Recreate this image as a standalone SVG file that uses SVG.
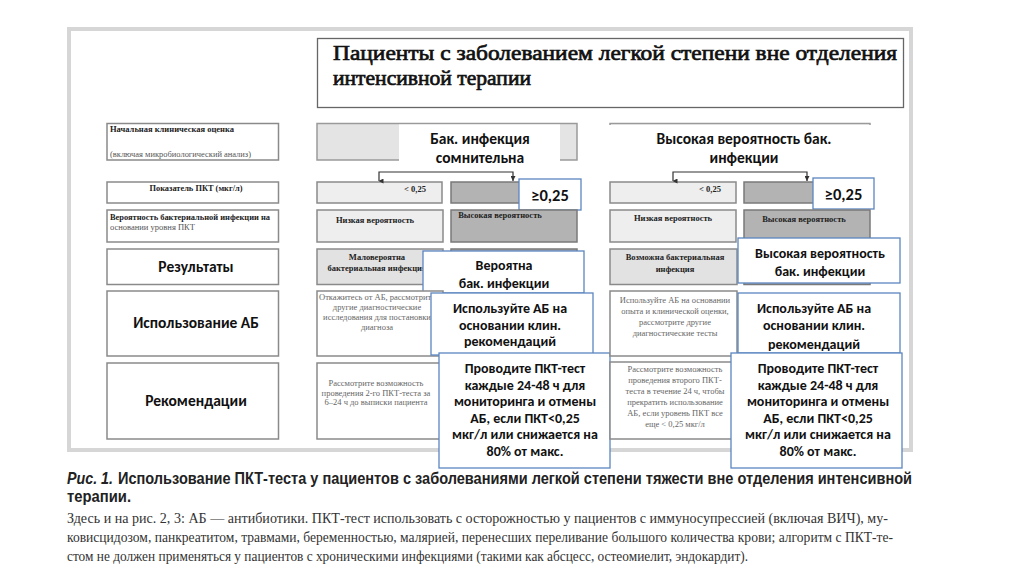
<svg xmlns="http://www.w3.org/2000/svg" width="1024" height="574" viewBox="0 0 1024 574">
<defs>
<marker id="arr" viewBox="0 0 10 10" refX="5" refY="9" markerWidth="5" markerHeight="5" orient="auto-start-reverse" markerUnits="userSpaceOnUse">
<path d="M0,0 L10,0 L5,10 Z" fill="#333"/>
</marker>
<marker id="arrd" viewBox="0 0 10 10" refX="10" refY="5" markerWidth="5" markerHeight="5" orient="auto" markerUnits="userSpaceOnUse">
<path d="M0,0 L10,5 L0,10 Z" fill="#333"/>
</marker>
</defs>
<style>
.frame{fill:#fff;stroke:#d6d6d6;stroke-width:4}
.wbox{fill:#fff;stroke:#8a8a8a;stroke-width:1.5}
.lbox{fill:#eeeeee;stroke:#8a8a8a;stroke-width:1.5}
.mbox{fill:#e2e2e2;stroke:#8a8a8a;stroke-width:1.5}
.dbox{fill:#b3b3b3;stroke:#7a7a7a;stroke-width:1.5}
.ov{fill:#fff;stroke:#5b86c0;stroke-width:1.3}
.ovn{fill:#fff}
.sb{font-family:"Liberation Serif",serif;font-weight:bold;font-size:8.5px;fill:#222}
.sn{font-family:"Liberation Serif",serif;font-size:8.5px;fill:#555}
.sg{font-family:"Liberation Serif",serif;font-size:8.5px;fill:#666;text-anchor:middle}
.ttl{font-family:"Liberation Serif","DejaVu Serif",serif;font-weight:normal;font-size:21px;fill:#111;stroke:#111;stroke-width:0.7}
.big{font-family:Carlito,Roboto,"Noto Sans",sans-serif;font-weight:bold;font-size:15.5px;fill:#111;text-anchor:middle}
.ovt{font-family:Carlito,Roboto,"Noto Sans",sans-serif;font-weight:bold;font-size:14px;fill:#111;text-anchor:middle}
.ge{font-family:Carlito,Roboto,"Noto Sans",sans-serif;font-weight:bold;font-size:16.5px;fill:#111;text-anchor:middle}
.cap{font-family:"Liberation Sans",sans-serif;font-weight:bold;font-size:16.5px;fill:#222}
.note{font-family:"Liberation Serif",serif;font-size:14.5px;fill:#333}
.conn{fill:none;stroke:#333;stroke-width:1.2}
</style>
<rect x="0" y="0" width="1024" height="574" fill="#fff"/>
<rect class="frame" x="69" y="29" width="842" height="421"/>

<g id="title">
<rect x="317.5" y="38.5" width="586" height="69" fill="#fff" stroke="#666" stroke-width="1.3"/>
<text class="ttl" x="333" y="60" textLength="564" lengthAdjust="spacingAndGlyphs">Пациенты с заболеванием легкой степени вне отделения</text>
<text class="ttl" x="333" y="85" textLength="198" lengthAdjust="spacingAndGlyphs">интенсивной терапии</text>
</g>

<g id="left-initial">
<rect class="wbox" x="107" y="123.5" width="171.5" height="36.5"/>
<text class="sb" x="110" y="132" textLength="124" lengthAdjust="spacingAndGlyphs">Начальная клиническая оценка</text>
<text class="sn" x="110" y="157" textLength="141" lengthAdjust="spacingAndGlyphs">(включая микробиологический анализ)</text>
</g>
<g id="left-pct">
<rect class="wbox" x="107" y="182" width="171.5" height="21"/>
<text class="sb" x="196" y="191" text-anchor="middle" textLength="93" lengthAdjust="spacingAndGlyphs">Показатель ПКТ (мкг/л)</text>
</g>
<g id="left-prob">
<rect class="wbox" x="107" y="210" width="171.5" height="32"/>
<text class="sb" x="110" y="220" textLength="160" lengthAdjust="spacingAndGlyphs">Вероятность бактериальной инфекции на</text>
<text class="sn" x="110" y="230" textLength="85" lengthAdjust="spacingAndGlyphs">основании уровня ПКТ</text>
</g>
<g id="left-results">
<rect class="wbox" x="107" y="249" width="171.5" height="35.5"/>
<text class="big" x="196" y="272">Результаты</text>
</g>
<g id="left-ab">
<rect class="wbox" x="107" y="291" width="171.5" height="65"/>
<text class="big" x="196" y="328">Использование АБ</text>
</g>
<g id="left-rec">
<rect class="wbox" x="107" y="363" width="171.5" height="76"/>
<text class="big" x="196" y="406">Рекомендации</text>
</g>

<g id="mid-head">
<rect x="317" y="123.5" width="260" height="36.5" fill="#e4e4e4" stroke="#9a9a9a" stroke-width="1.5"/>
<rect class="ovn" x="399" y="124.5" width="161" height="44"/>
<text class="big" x="480" y="144">Бак. инфекция</text>
<text class="big" x="480" y="163">сомнительна</text>
</g>
<g id="mid-low">
<rect class="lbox" x="317" y="182" width="125" height="21"/>
<text class="sb" x="415" y="192" text-anchor="middle">&lt; 0,25</text>
</g>
<g id="mid-high">
<rect class="dbox" x="451" y="182" width="126" height="21"/>
</g>
<g id="mid-ge">
<rect class="ov" x="519" y="179" width="62" height="31"/>
<text class="ge" x="550" y="200.5">≥0,25</text>
</g>
<g id="mid-lowprob">
<rect class="lbox" x="317" y="210" width="126" height="32"/>
<text class="sb" x="375" y="223" text-anchor="middle">Низкая вероятность</text>
</g>
<g id="mid-highprob">
<rect class="dbox" x="451" y="210" width="126" height="32"/>
<text class="sb" x="500" y="218" text-anchor="middle">Высокая вероятность</text>
</g>
<g id="mid-unlikely">
<rect class="mbox" x="317" y="249" width="126" height="35.5"/>
<text class="sb" x="377" y="260" text-anchor="middle">Маловероятна</text>
<text class="sb" x="377" y="271" text-anchor="middle">бактериальная инфекция</text>
<rect class="dbox" x="451" y="249" width="126" height="35.5"/>
</g>
<g id="mid-likely">
<rect class="ov" x="423" y="251" width="161" height="42"/>
<text class="ovt" x="504" y="270">Вероятна</text>
<text class="ovt" x="504" y="288">бак. инфекции</text>
</g>
<g id="mid-refuse">
<rect class="wbox" x="317" y="291" width="126" height="65"/>
<text class="sg" x="377" y="300">Откажитесь от АБ, рассмотрите</text>
<text class="sg" x="377" y="310">другие диагностические</text>
<text class="sg" x="377" y="320">исследования для постановки</text>
<text class="sg" x="377" y="330">диагноза</text>
</g>
<g id="mid-use">
<rect class="ov" x="431" y="293" width="162" height="62"/>
<text class="ovt" x="510" y="313">Используйте АБ на</text>
<text class="ovt" x="510" y="329.5">основании клин.</text>
<text class="ovt" x="510" y="346">рекомендаций</text>
</g>
<g id="mid-consider">
<rect class="wbox" x="317" y="363" width="126" height="76"/>
<text class="sg" x="376" y="386">Рассмотрите возможность</text>
<text class="sg" x="376" y="396">проведения 2-го ПКТ-теста за</text>
<text class="sg" x="376" y="405">6–24 ч до выписки пациента</text>
</g>
<g id="mid-monitor">
<rect class="ov" x="439" y="353" width="171" height="115"/>
<text class="ovt" x="525" y="373">Проводите ПКТ-тест</text>
<text class="ovt" x="525" y="389.5">каждые 24-48 ч для</text>
<text class="ovt" x="525" y="406">мониторинга и отмены</text>
<text class="ovt" x="525" y="422.5">АБ, если ПКТ&lt;0,25</text>
<text class="ovt" x="525" y="439">мкг/л или снижается на</text>
<text class="ovt" x="525" y="455.5">80% от макс.</text>
</g>

<g id="right-head">
<rect x="610" y="123.5" width="260" height="36.5" fill="#f4f4f4" stroke="#9a9a9a" stroke-width="1.5"/>
<rect class="ovn" x="605" y="125" width="270" height="44"/>
<text class="big" x="744" y="144">Высокая вероятность бак.</text>
<text class="big" x="744" y="163">инфекции</text>
</g>
<g id="right-low">
<rect class="lbox" x="610" y="182" width="126" height="21"/>
<text class="sb" x="710" y="192" text-anchor="middle">&lt; 0,25</text>
</g>
<g id="right-high">
<rect class="dbox" x="744" y="182" width="126" height="21"/>
</g>
<g id="right-ge">
<rect class="ov" x="813" y="178" width="61" height="31"/>
<text class="ge" x="843.5" y="199.5">≥0,25</text>
</g>
<g id="right-lowprob">
<rect class="lbox" x="610" y="210" width="126" height="32"/>
<text class="sb" x="673" y="221" text-anchor="middle">Низкая вероятность</text>
</g>
<g id="right-highprob">
<rect class="dbox" x="744" y="210" width="126" height="32"/>
<text class="sb" x="804" y="222" text-anchor="middle">Высокая вероятность</text>
</g>
<g id="right-possible">
<rect class="mbox" x="610" y="249" width="127" height="35.5"/>
<text class="sb" x="675" y="260" text-anchor="middle">Возможна бактериальная</text>
<text class="sb" x="675" y="272" text-anchor="middle">инфекция</text>
<rect class="dbox" x="744" y="249" width="126" height="35.5"/>
</g>
<g id="right-highlikely">
<rect class="ov" x="738" y="238" width="162" height="45"/>
<text class="ovt" x="820" y="258">Высокая вероятность</text>
<text class="ovt" x="820" y="276">бак. инфекции</text>
</g>
<g id="right-use-exp">
<rect class="wbox" x="610" y="291" width="127" height="65"/>
<text class="sg" x="675" y="303">Используйте АБ на основании</text>
<text class="sg" x="675" y="314">опыта и клинической оценки,</text>
<text class="sg" x="675" y="325">рассмотрите другие</text>
<text class="sg" x="675" y="336">диагностические тесты</text>
</g>
<g id="right-use">
<rect class="ov" x="738" y="293" width="162" height="60"/>
<text class="ovt" x="814" y="313">Используйте АБ на</text>
<text class="ovt" x="814" y="329.5">основании клин.</text>
<text class="ovt" x="814" y="349">рекомендаций</text>
</g>
<g id="right-consider">
<rect class="wbox" x="610" y="362" width="127" height="77"/>
<text class="sg" x="675" y="372">Рассмотрите возможность</text>
<text class="sg" x="675" y="383">проведения второго ПКТ-</text>
<text class="sg" x="675" y="394">теста в течение 24 ч, чтобы</text>
<text class="sg" x="675" y="405">прекратить использование</text>
<text class="sg" x="675" y="416">АБ, если уровень ПКТ все</text>
<text class="sg" x="675" y="427">еще &lt; 0,25 мкг/л</text>
</g>
<g id="right-monitor">
<rect class="ov" x="731" y="353" width="171" height="115"/>
<text class="ovt" x="818" y="373">Проводите ПКТ-тест</text>
<text class="ovt" x="818" y="389.5">каждые 24-48 ч для</text>
<text class="ovt" x="818" y="406">мониторинга и отмены</text>
<text class="ovt" x="818" y="422.5">АБ, если ПКТ&lt;0,25</text>
<text class="ovt" x="818" y="439">мкг/л или снижается на</text>
<text class="ovt" x="818" y="455.5">80% от макс.</text>
</g>

<g id="connectors">
<path class="conn" d="M379,181 V172 H513 V181" marker-start="url(#arr)" marker-end="url(#arrd)"/>
<path class="conn" d="M673,181 V172 H807 V181" marker-start="url(#arr)" marker-end="url(#arrd)"/>
</g>

<g id="caption">
<text class="cap" x="67" y="484" font-style="italic" textLength="46" lengthAdjust="spacingAndGlyphs">Рис. 1.</text>
<text class="cap" x="118" y="484" textLength="794" lengthAdjust="spacingAndGlyphs">Использование ПКТ-теста у пациентов с заболеваниями легкой степени тяжести вне отделения интенсивной</text>
<text class="cap" x="67" y="502" textLength="64" lengthAdjust="spacingAndGlyphs">терапии.</text>
<text class="note" x="67" y="523" textLength="821" lengthAdjust="spacingAndGlyphs">Здесь и на рис. 2, 3: АБ — антибиотики. ПКТ-тест использовать с осторожностью у пациентов с иммуносупрессией (включая ВИЧ), му-</text>
<text class="note" x="67" y="542" textLength="826" lengthAdjust="spacingAndGlyphs">ковисцидозом, панкреатитом, травмами, беременностью, малярией, перенесших переливание большого количества крови; алгоритм с ПКТ-те-</text>
<text class="note" x="67" y="561" textLength="681" lengthAdjust="spacingAndGlyphs">стом не должен применяться у пациентов с хроническими инфекциями (такими как абсцесс, остеомиелит, эндокардит).</text>
</g>
</svg>
